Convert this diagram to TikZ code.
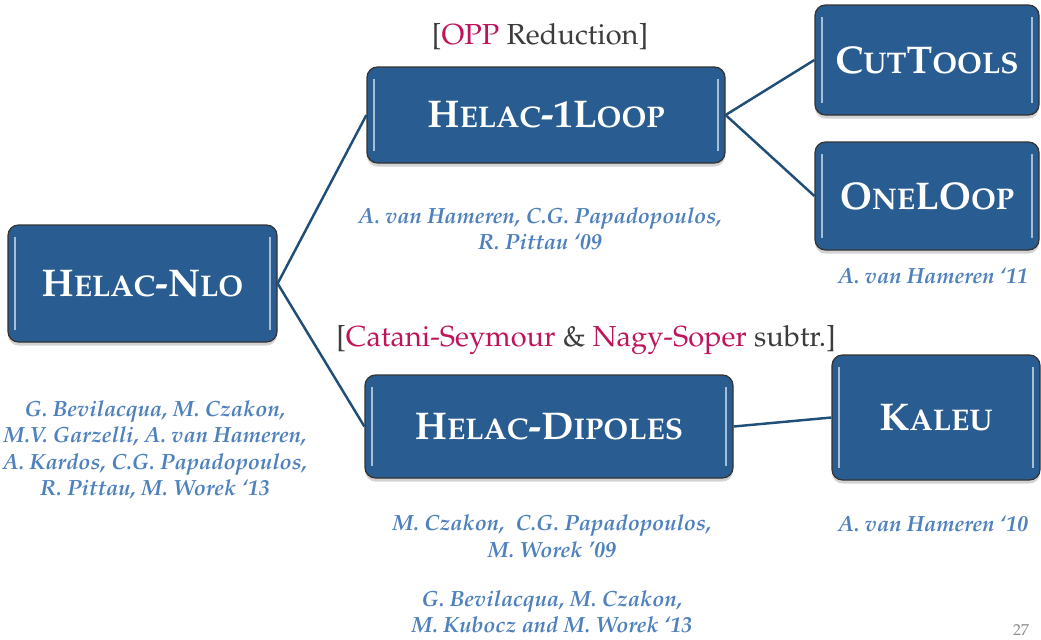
\documentclass[tikz,border=0pt]{standalone}
\usepackage[T1]{fontenc}
\usepackage{mathpazo}
\usepackage{xcolor}
\usepackage{tikz}
\usetikzlibrary{shadows}
\definecolor{boxblue}{RGB}{41,92,144}
\definecolor{linkblue}{RGB}{31,78,121}
\definecolor{authblue}{RGB}{79,129,189}
\definecolor{redpink}{RGB}{192,20,90}
\definecolor{darktext}{RGB}{60,60,60}
\newcommand{\fsc}[2]{#1{\fontsize{17}{18}\selectfont #2}}
\tikzset{
  prog/.style={draw=black!80, line width=0.7pt, fill=boxblue, rounded corners=6pt,
    text=white, font=\fontsize{22}{24}\selectfont\bfseries, inner sep=0pt,
    drop shadow={shadow xshift=0pt, shadow yshift=-2pt, opacity=0.35},
    path picture={
      \draw[boxblue!40!white, line width=1.3pt]
        ([xshift=4pt,yshift=-7pt]path picture bounding box.north west) --
        ([xshift=4pt,yshift=7pt]path picture bounding box.south west);
      \draw[boxblue!40!white, line width=1.3pt]
        ([xshift=-4pt,yshift=-7pt]path picture bounding box.north east) --
        ([xshift=-4pt,yshift=7pt]path picture bounding box.south east);
    }},
  link/.style={linkblue, line width=1.4pt},
  authors/.style={text=authblue, align=center, font=\fontsize{12.5}{15}\selectfont\bfseries\itshape},
  method/.style={text=darktext, font=\fontsize{16.5}{18}\selectfont}
}

\begin{document}
\begin{tikzpicture}
    \useasboundingbox (0,0) rectangle (20.82,-12.78);
    % the program boxes
    \node[prog, minimum width=5.38cm, minimum height=2.34cm] (nlo) at (2.85,-5.67) {\fsc{H}{ELAC}-\fsc{N}{LO}};
    \node[prog, minimum width=7.16cm, minimum height=1.92cm] (oneloop) at (10.92,-2.30) {\fsc{H}{ELAC}-1\fsc{L}{OOP}};
    \node[prog, minimum width=7.36cm, minimum height=2.06cm] (dipoles) at (10.98,-8.53) {\fsc{H}{ELAC}-\fsc{D}{IPOLES}};
    \node[prog, minimum width=4.48cm, minimum height=2.2cm] (cuttools) at (18.54,-1.20) {\fsc{C}{UT}\fsc{T}{OOLS}};
    \node[prog, minimum width=4.48cm, minimum height=2.16cm] (oneloopl) at (18.54,-3.92) {\fsc{O}{NE}\fsc{LO}{OP}};
    \node[prog, minimum width=4.16cm, minimum height=2.5cm] (kaleu) at (18.72,-8.35) {\fsc{K}{ALEU}};
    % connectors
    \draw[link] (nlo.east) -- (oneloop.west);
    \draw[link] (nlo.east) -- (dipoles.west);
    \draw[link] (oneloop.east) -- (cuttools.west);
    \draw[link] (oneloop.east) -- (oneloopl.west);
    \draw[link] (dipoles.east) -- (kaleu.west);
    % methods
    \node[method] (opp) at (10.8,-0.74) {[\textcolor{redpink}{OPP} Reduction]};
    \node[method] (subtr) at (11.72,-6.8) {[\textcolor{redpink}{Catani-Seymour} \& \textcolor{redpink}{Nagy-Soper} subtr.]};
    % references
    \node[authors] (refnlo) at (3.1,-9.0) {G. Bevilacqua, M. Czakon,\\ M.V. Garzelli, A. van Hameren,\\ A. Kardos, C.G. Papadopoulos,\\ R. Pittau, M. Worek `13};
    \node[authors] (refloop) at (10.8,-4.58) {A. van Hameren, C.G. Papadopoulos,\\ R. Pittau `09};
    \node[authors] (refol) at (18.66,-5.52) {A. van Hameren `11};
    \node[authors] (refdip) at (11.04,-10.73) {M. Czakon,\ \ C.G. Papadopoulos,\\ M. Worek '09};
    \node[authors] (refdip2) at (11.04,-12.24) {G. Bevilacqua, M. Czakon,\\ M. Kubocz and M. Worek `13};
    \node[authors] (refkal) at (18.66,-10.48) {A. van Hameren `10};
    \node[text=black!45, font=\fontsize{9}{10}\selectfont, inner sep=1pt, anchor=south] (page) at (20.42,-12.76) {27};
\end{tikzpicture}
\end{document}
